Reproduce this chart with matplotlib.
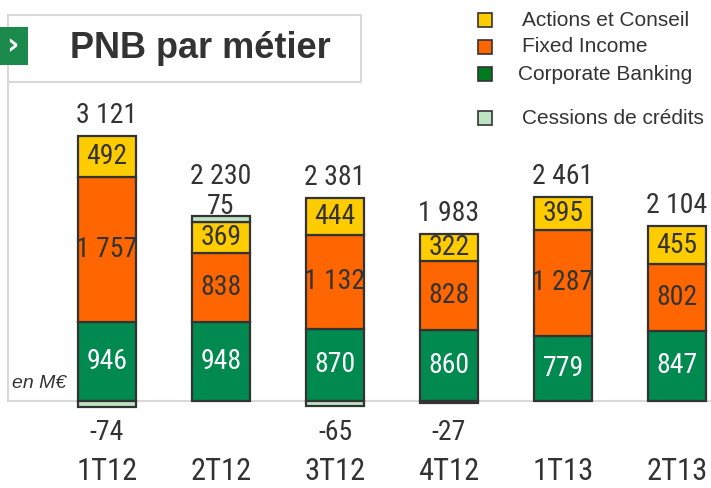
import matplotlib
matplotlib.use("Agg")
import matplotlib.pyplot as plt
from matplotlib.patches import Rectangle
from matplotlib.transforms import blended_transform_factory

# Données (en M€)
trimestres = ["1T12", "2T12", "3T12", "4T12", "1T13", "2T13"]
corporate = [946, 948, 870, 860, 779, 847]
fixed_income = [1757, 838, 1132, 828, 1287, 802]
actions = [492, 369, 444, 322, 395, 455]
cessions = [-74, 75, -65, -27, 0, 0]
totaux = [3121, 2230, 2381, 1983, 2461, 2104]

legende = ["Actions et Conseil", "Fixed Income", "Corporate Banking", "Cessions de crédits"]

JAUNE = "#FFCC00"
ORANGE = "#FF6600"
VERT = "#008A50"
VERT_LEG = "#007A1E"
VERT_CLAIR = "#BEE3C3"
BORD = "#333333"
TEXTE = "#333333"
GRIS = "#D9D9D9"

NARROW = ["Roboto Condensed", "Liberation Sans", "DejaVu Sans"]
ARIAL = ["Liberation Sans", "DejaVu Sans"]
plt.rcParams["font.family"] = NARROW

W, H = 711, 488
fig = plt.figure(figsize=(W / 100, H / 100), dpi=100)


def fx(px):
    return px / W


def fy(py):
    return 1 - py / H


# axes sur toute la figure, échelle calée sur la ligne de base (y=401 px)
ax = fig.add_axes([0, 0, 1, 1])
px_par_unite = 0.083
base = 401
ax.set_ylim(-(H - base) / px_par_unite, base / px_par_unite)
pas = 114
c0 = 107
ax.set_xlim(-c0 / pas, (W - c0) / pas)
ax.axis("off")

x = list(range(len(trimestres)))
larg = 0.51
kw = dict(width=larg, edgecolor=BORD, linewidth=1.6, zorder=3)

bas2 = [c + f for c, f in zip(corporate, fixed_income)]
bas3 = [b + a for b, a in zip(bas2, actions)]

ax.bar(x, corporate, color=VERT, **kw)
ax.bar(x, fixed_income, bottom=corporate, color=ORANGE, **kw)
ax.bar(x, actions, bottom=bas2, color=JAUNE, **kw)
for i, c in enumerate(cessions):
    if c > 0:
        ax.bar(i, c, bottom=bas3[i], color=VERT_CLAIR, **kw)
    elif c < 0:
        ax.bar(i, c, bottom=0, color=VERT_CLAIR, **kw)

# ligne de base et bord gauche
xg = -c0 / pas + 8 / pas
ax.plot([xg, (W - c0) / pas], [0, 0], color=GRIS, lw=1.5, zorder=1)
ax.plot([xg, xg], [0, (base - 15) / px_par_unite], color=GRIS, lw=1.5, zorder=1)


def fmt(v):
    return f"{v:,}".replace(",", " ")


trans = blended_transform_factory(ax.transData, ax.transAxes)

for i in x:
    ax.text(i, corporate[i] / 2, fmt(corporate[i]), ha="center", va="center",
            color="white", fontsize=20, zorder=4)
    ax.text(i, corporate[i] + fixed_income[i] / 2, fmt(fixed_income[i]), ha="center",
            va="center", color=TEXTE, fontsize=20, zorder=4)
    ax.text(i, bas2[i] + actions[i] / 2, fmt(actions[i]), ha="center", va="center",
            color=TEXTE, fontsize=20, zorder=4)
    haut = bas3[i]
    if cessions[i] > 0:
        haut += cessions[i]
        ax.annotate(fmt(cessions[i]), (i, haut), xytext=(0, -3), textcoords="offset points",
                    ha="center", va="bottom", color=TEXTE, fontsize=20, zorder=4)
        ax.annotate(fmt(totaux[i]), (i, haut), xytext=(0, 19), textcoords="offset points",
                    ha="center", va="bottom", color=TEXTE, fontsize=20, zorder=4)
    else:
        ax.annotate(fmt(totaux[i]), (i, haut), xytext=(0, 5), textcoords="offset points",
                    ha="center", va="bottom", color=TEXTE, fontsize=20, zorder=4)
    if cessions[i] < 0:
        ax.text(i, 1 - 432 / H, fmt(cessions[i]), transform=trans, ha="center",
                va="center", color=TEXTE, fontsize=20)
    ax.text(i, 1 - 472 / H, trimestres[i], transform=trans, ha="center", va="center",
            color=TEXTE, fontsize=22)

# en M€
fig.text(fx(12), fy(383), "en M€", family=ARIAL, style="italic", fontsize=14,
         color=TEXTE, ha="left", va="center")

# titre dans son cadre
fig.patches.append(Rectangle((fx(8), fy(82)), fx(361 - 8), (82 - 15) / H, transform=fig.transFigure,
                             facecolor="white", edgecolor=GRIS, lw=1.5, zorder=5))
fig.patches.append(Rectangle((fx(0), fy(65)), fx(28), (65 - 27) / H, transform=fig.transFigure,
                             facecolor="#1B8A4C", edgecolor="none", zorder=6))
fig.text(fx(12), fy(46), "›", color="white", fontsize=22, fontweight="bold",
         family=["DejaVu Sans"], ha="center", va="center", zorder=7)
fig.text(fx(200), fy(48), "PNB par métier", family=ARIAL, fontweight="bold",
         fontsize=26, color=TEXTE, ha="center", va="center", zorder=7)

# légende
leg_y = [20, 47, 74, 118]
leg_x = [522, 522, 518, 522]
leg_c = [JAUNE, ORANGE, VERT_LEG, VERT_CLAIR]
for lab, y, tx, c in zip(legende, leg_y, leg_x, leg_c):
    fig.patches.append(Rectangle((fx(478), fy(y + 7)), fx(14), 14 / H, transform=fig.transFigure,
                                 facecolor=c, edgecolor=BORD, lw=1.2, zorder=5))
    fig.text(fx(tx), fy(y), lab, family=ARIAL, fontsize=15, color=TEXTE,
             ha="left", va="center")

fig.savefig("out.png", dpi=100)
